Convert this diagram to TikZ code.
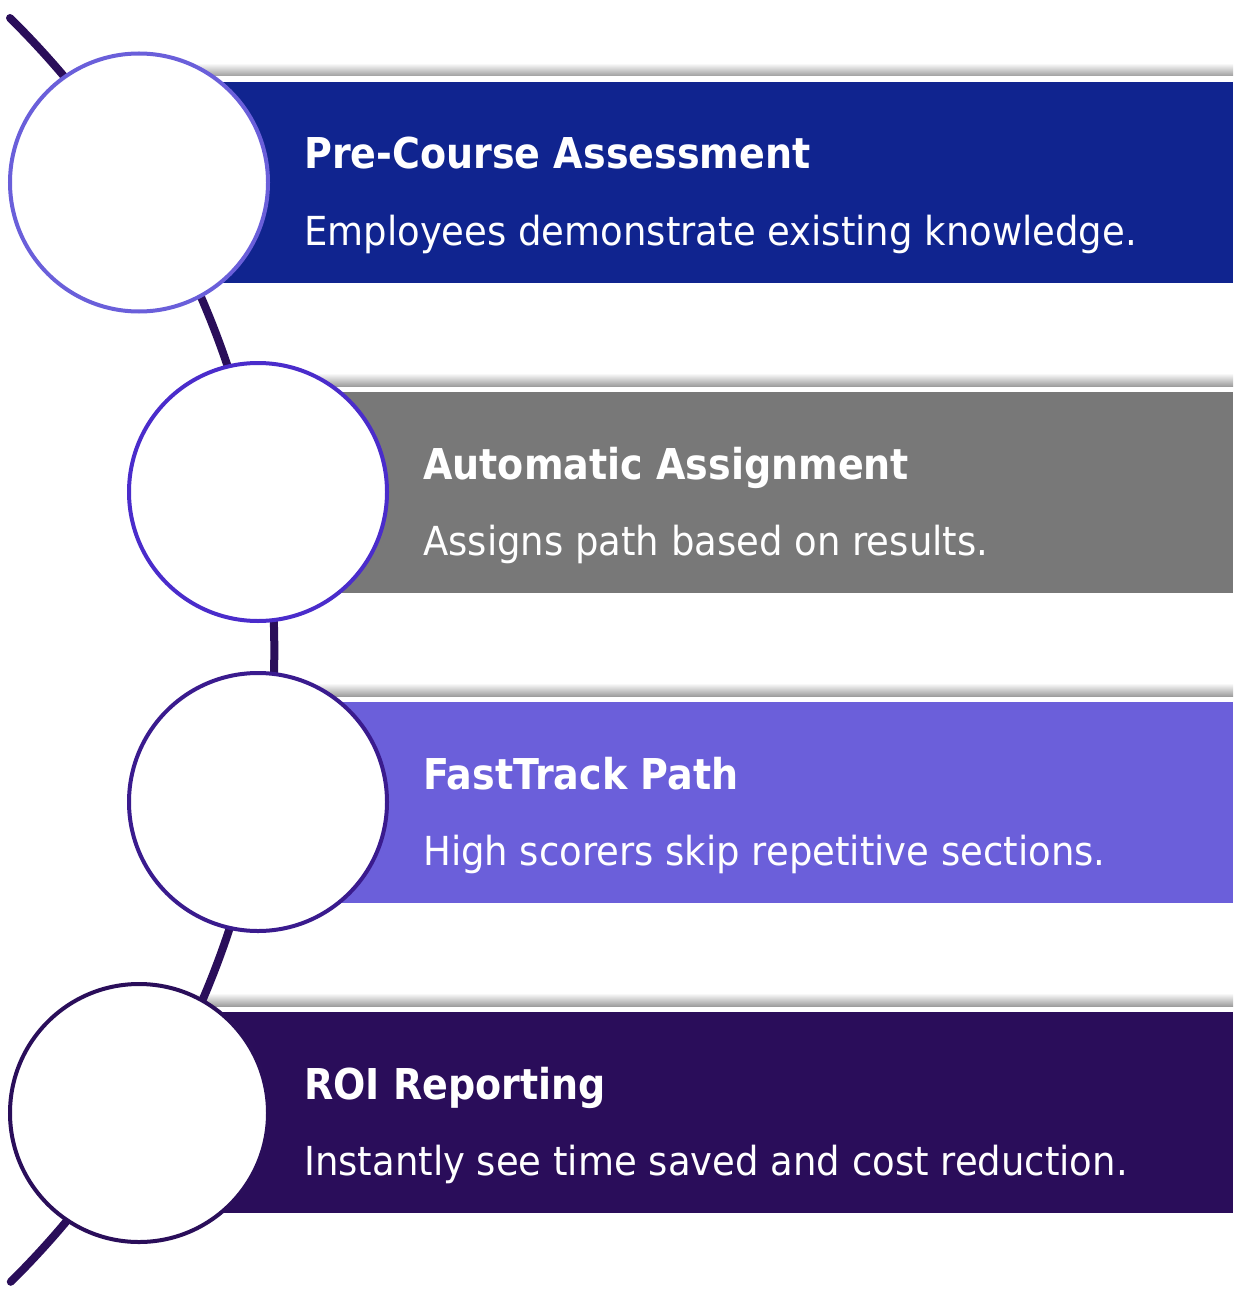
\documentclass[tikz,border=0pt]{standalone}
\usepackage{fontspec}
\setmainfont{DejaVu Sans}
\newfontfamily\titlefont[FakeStretch=0.895]{DejaVu Sans}
\newfontfamily\descfont[FakeStretch=0.925]{DejaVu Sans}
\definecolor{barA}{HTML}{10248F}
\definecolor{barB}{HTML}{787878}
\definecolor{barC}{HTML}{6B5FDA}
\definecolor{barD}{HTML}{2A0D5A}
\definecolor{ringA}{HTML}{6A5FDA}
\definecolor{ringB}{HTML}{4A2CCB}
\definecolor{ringC}{HTML}{3A1B8E}
\definecolor{ringD}{HTML}{2A0E5A}
\definecolor{lineD}{HTML}{2A0E5A}
\tikzset{
  stepcircle/.style={circle, fill=white, line width=4pt, minimum size=258pt, inner sep=0pt},
  titletext/.style={anchor=base west, inner sep=0pt, text=white, font=\titlefont\bfseries\fontsize{42.5}{50}\selectfont},
  desctext/.style={anchor=base west, inner sep=0pt, text=white, font=\descfont\fontsize{40}{48}\selectfont},
  shadowband/.style={top color=white, bottom color=black!38, draw=none},
  timeline/.style={draw=lineD, line width=8pt, line cap=round}
}
\begin{document}
\begin{tikzpicture}[x=1pt,y=-1pt]
\useasboundingbox (0,0) rectangle (1235,1289);
% shadows above bars
\foreach \l/\t in {139/82,258/392,258/702,139/1012}{
  \shade[shadowband] (\l,\t-19) rectangle (1233,\t-6);
}
% bars
\fill[barA] (139,82) rectangle (1233,283);
\fill[barB] (258,392) rectangle (1233,593);
\fill[barC] (258,702) rectangle (1233,903);
\fill[barD] (139,1012) rectangle (1233,1213);
% timeline curve
\coordinate (tlstart) at (10,18);
\draw[timeline] (tlstart) arc[start angle=45.37, end angle=-45.3, radius=888.5pt];
% circles
\node[stepcircle, draw=ringA] (s1) at (139,182.5) {};
\node[stepcircle, draw=ringB] (s2) at (258,492) {};
\node[stepcircle, draw=ringC] (s3) at (258,802) {};
\node[stepcircle, draw=ringD] (s4) at (139,1113) {};
% texts
\node[titletext] (t1) at (304,169) {Pre-Course Assessment};
\node[desctext] (d1) at (304,245) {Employees demonstrate existing knowledge.};
\node[titletext] (t2) at (423,479) {Automatic Assignment};
\node[desctext] (d2) at (423,555) {Assigns path based on results.};
\node[titletext] (t3) at (423,789) {FastTrack Path};
\node[desctext] (d3) at (423,865) {High scorers skip repetitive sections.};
\node[titletext] (t4) at (304,1099) {ROI Reporting};
\node[desctext] (d4) at (304,1175) {Instantly see time saved and cost reduction.};
\end{tikzpicture}
\end{document}
